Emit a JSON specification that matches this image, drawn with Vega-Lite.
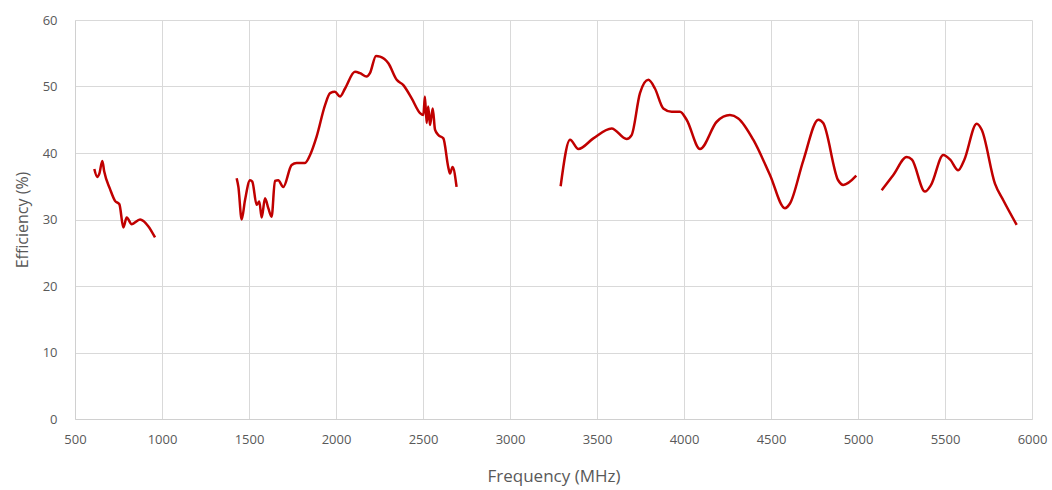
{
  "$schema": "https://vega.github.io/schema/vega-lite/v6.json",
  "autosize": "none",
  "width": 957,
  "height": 399,
  "padding": {"left": 75, "top": 20, "right": 20, "bottom": 71},
  "background": "white",
  "config": {
    "view": {"stroke": null},
    "font": "Open Sans",
    "axis": {
      "labelColor": "#595959",
      "titleColor": "#595959",
      "labelFont": "Open Sans",
      "titleFont": "Open Sans",
      "labelFontSize": 13,
      "titleFontSize": 16,
      "titleFontWeight": "normal",
      "gridColor": "#d9d9d9",
      "gridWidth": 1,
      "domainColor": "#d0d0d0",
      "ticks": false
    }
  },
  "data": {
    "values": [
      {"seg": 1, "f": 611, "e": 37.6},
      {"seg": 1, "f": 628, "e": 36.4},
      {"seg": 1, "f": 640, "e": 36.9},
      {"seg": 1, "f": 657, "e": 38.8},
      {"seg": 1, "f": 668, "e": 37.2},
      {"seg": 1, "f": 701, "e": 34.6},
      {"seg": 1, "f": 730, "e": 32.8},
      {"seg": 1, "f": 755, "e": 32.3},
      {"seg": 1, "f": 778, "e": 28.8},
      {"seg": 1, "f": 797, "e": 30.3},
      {"seg": 1, "f": 826, "e": 29.3},
      {"seg": 1, "f": 874, "e": 30.0},
      {"seg": 1, "f": 921, "e": 29.0},
      {"seg": 1, "f": 960, "e": 27.3},
      {"seg": 2, "f": 1429, "e": 36.2},
      {"seg": 2, "f": 1439, "e": 34.9},
      {"seg": 2, "f": 1458, "e": 30.0},
      {"seg": 2, "f": 1477, "e": 32.9},
      {"seg": 2, "f": 1506, "e": 35.9},
      {"seg": 2, "f": 1519, "e": 35.7},
      {"seg": 2, "f": 1544, "e": 32.2},
      {"seg": 2, "f": 1559, "e": 32.7},
      {"seg": 2, "f": 1573, "e": 30.3},
      {"seg": 2, "f": 1592, "e": 33.2},
      {"seg": 2, "f": 1611, "e": 31.7},
      {"seg": 2, "f": 1630, "e": 30.4},
      {"seg": 2, "f": 1649, "e": 35.8},
      {"seg": 2, "f": 1668, "e": 35.9},
      {"seg": 2, "f": 1697, "e": 34.9},
      {"seg": 2, "f": 1745, "e": 38.2},
      {"seg": 2, "f": 1774, "e": 38.5},
      {"seg": 2, "f": 1822, "e": 38.5},
      {"seg": 2, "f": 1851, "e": 39.7},
      {"seg": 2, "f": 1889, "e": 42.5},
      {"seg": 2, "f": 1937, "e": 47.2},
      {"seg": 2, "f": 1966, "e": 49.0},
      {"seg": 2, "f": 1994, "e": 49.2},
      {"seg": 2, "f": 2023, "e": 48.5},
      {"seg": 2, "f": 2052, "e": 49.7},
      {"seg": 2, "f": 2109, "e": 52.2},
      {"seg": 2, "f": 2138, "e": 52.0},
      {"seg": 2, "f": 2176, "e": 51.5},
      {"seg": 2, "f": 2195, "e": 52.0},
      {"seg": 2, "f": 2230, "e": 54.6},
      {"seg": 2, "f": 2253, "e": 54.5},
      {"seg": 2, "f": 2301, "e": 53.5},
      {"seg": 2, "f": 2349, "e": 51.0},
      {"seg": 2, "f": 2387, "e": 50.2},
      {"seg": 2, "f": 2435, "e": 48.2},
      {"seg": 2, "f": 2483, "e": 46.0},
      {"seg": 2, "f": 2502, "e": 45.7},
      {"seg": 2, "f": 2511, "e": 48.5},
      {"seg": 2, "f": 2521, "e": 44.5},
      {"seg": 2, "f": 2530, "e": 47.0},
      {"seg": 2, "f": 2540, "e": 44.2},
      {"seg": 2, "f": 2556, "e": 46.7},
      {"seg": 2, "f": 2569, "e": 43.5},
      {"seg": 2, "f": 2588, "e": 42.7},
      {"seg": 2, "f": 2617, "e": 42.2},
      {"seg": 2, "f": 2645, "e": 37.9},
      {"seg": 2, "f": 2655, "e": 36.9},
      {"seg": 2, "f": 2670, "e": 37.9},
      {"seg": 2, "f": 2693, "e": 34.9},
      {"seg": 3, "f": 3291, "e": 35.0},
      {"seg": 3, "f": 3345, "e": 42.0},
      {"seg": 3, "f": 3393, "e": 40.6},
      {"seg": 3, "f": 3479, "e": 42.2},
      {"seg": 3, "f": 3584, "e": 43.7},
      {"seg": 3, "f": 3670, "e": 42.1},
      {"seg": 3, "f": 3699, "e": 42.7},
      {"seg": 3, "f": 3747, "e": 49.0},
      {"seg": 3, "f": 3795, "e": 51.0},
      {"seg": 3, "f": 3833, "e": 49.7},
      {"seg": 3, "f": 3881, "e": 46.7},
      {"seg": 3, "f": 3929, "e": 46.2},
      {"seg": 3, "f": 3977, "e": 46.2},
      {"seg": 3, "f": 4015, "e": 45.0},
      {"seg": 3, "f": 4092, "e": 40.6},
      {"seg": 3, "f": 4188, "e": 44.7},
      {"seg": 3, "f": 4264, "e": 45.7},
      {"seg": 3, "f": 4312, "e": 45.2},
      {"seg": 3, "f": 4398, "e": 42.0},
      {"seg": 3, "f": 4494, "e": 36.7},
      {"seg": 3, "f": 4580, "e": 31.7},
      {"seg": 3, "f": 4609, "e": 32.4},
      {"seg": 3, "f": 4686, "e": 38.9},
      {"seg": 3, "f": 4772, "e": 45.0},
      {"seg": 3, "f": 4800, "e": 44.5},
      {"seg": 3, "f": 4886, "e": 35.9},
      {"seg": 3, "f": 4915, "e": 35.2},
      {"seg": 3, "f": 4990, "e": 36.6},
      {"seg": 4, "f": 5136, "e": 34.4},
      {"seg": 4, "f": 5203, "e": 36.7},
      {"seg": 4, "f": 5280, "e": 39.4},
      {"seg": 4, "f": 5310, "e": 39.0},
      {"seg": 4, "f": 5385, "e": 34.2},
      {"seg": 4, "f": 5420, "e": 35.2},
      {"seg": 4, "f": 5490, "e": 39.7},
      {"seg": 4, "f": 5530, "e": 39.0},
      {"seg": 4, "f": 5576, "e": 37.4},
      {"seg": 4, "f": 5610, "e": 38.9},
      {"seg": 4, "f": 5682, "e": 44.4},
      {"seg": 4, "f": 5711, "e": 43.5},
      {"seg": 4, "f": 5787, "e": 35.4},
      {"seg": 4, "f": 5835, "e": 32.9},
      {"seg": 4, "f": 5912, "e": 29.2}
    ]
  },
  "mark": {"type": "line", "color": "#C00000", "strokeWidth": 2.5, "interpolate": "monotone"},
  "encoding": {
    "x": {
      "field": "f",
      "type": "quantitative",
      "scale": {"domain": [500, 6000], "nice": false, "zero": false},
      "axis": {"values": [500, 1000, 1500, 2000, 2500, 3000, 3500, 4000, 4500, 5000, 5500, 6000], "title": "Frequency (MHz)", "labelPadding": 14, "titlePadding": 22, "titleFontSize": 17, "format": "d", "labelFlush": false}
    },
    "y": {
      "field": "e",
      "type": "quantitative",
      "scale": {"domain": [0, 60], "nice": false},
      "axis": {"values": [0, 10, 20, 30, 40, 50, 60], "title": "Efficiency (%)", "labelPadding": 18, "titlePadding": 12}
    },
    "detail": {"field": "seg", "type": "nominal"}
  }
}
